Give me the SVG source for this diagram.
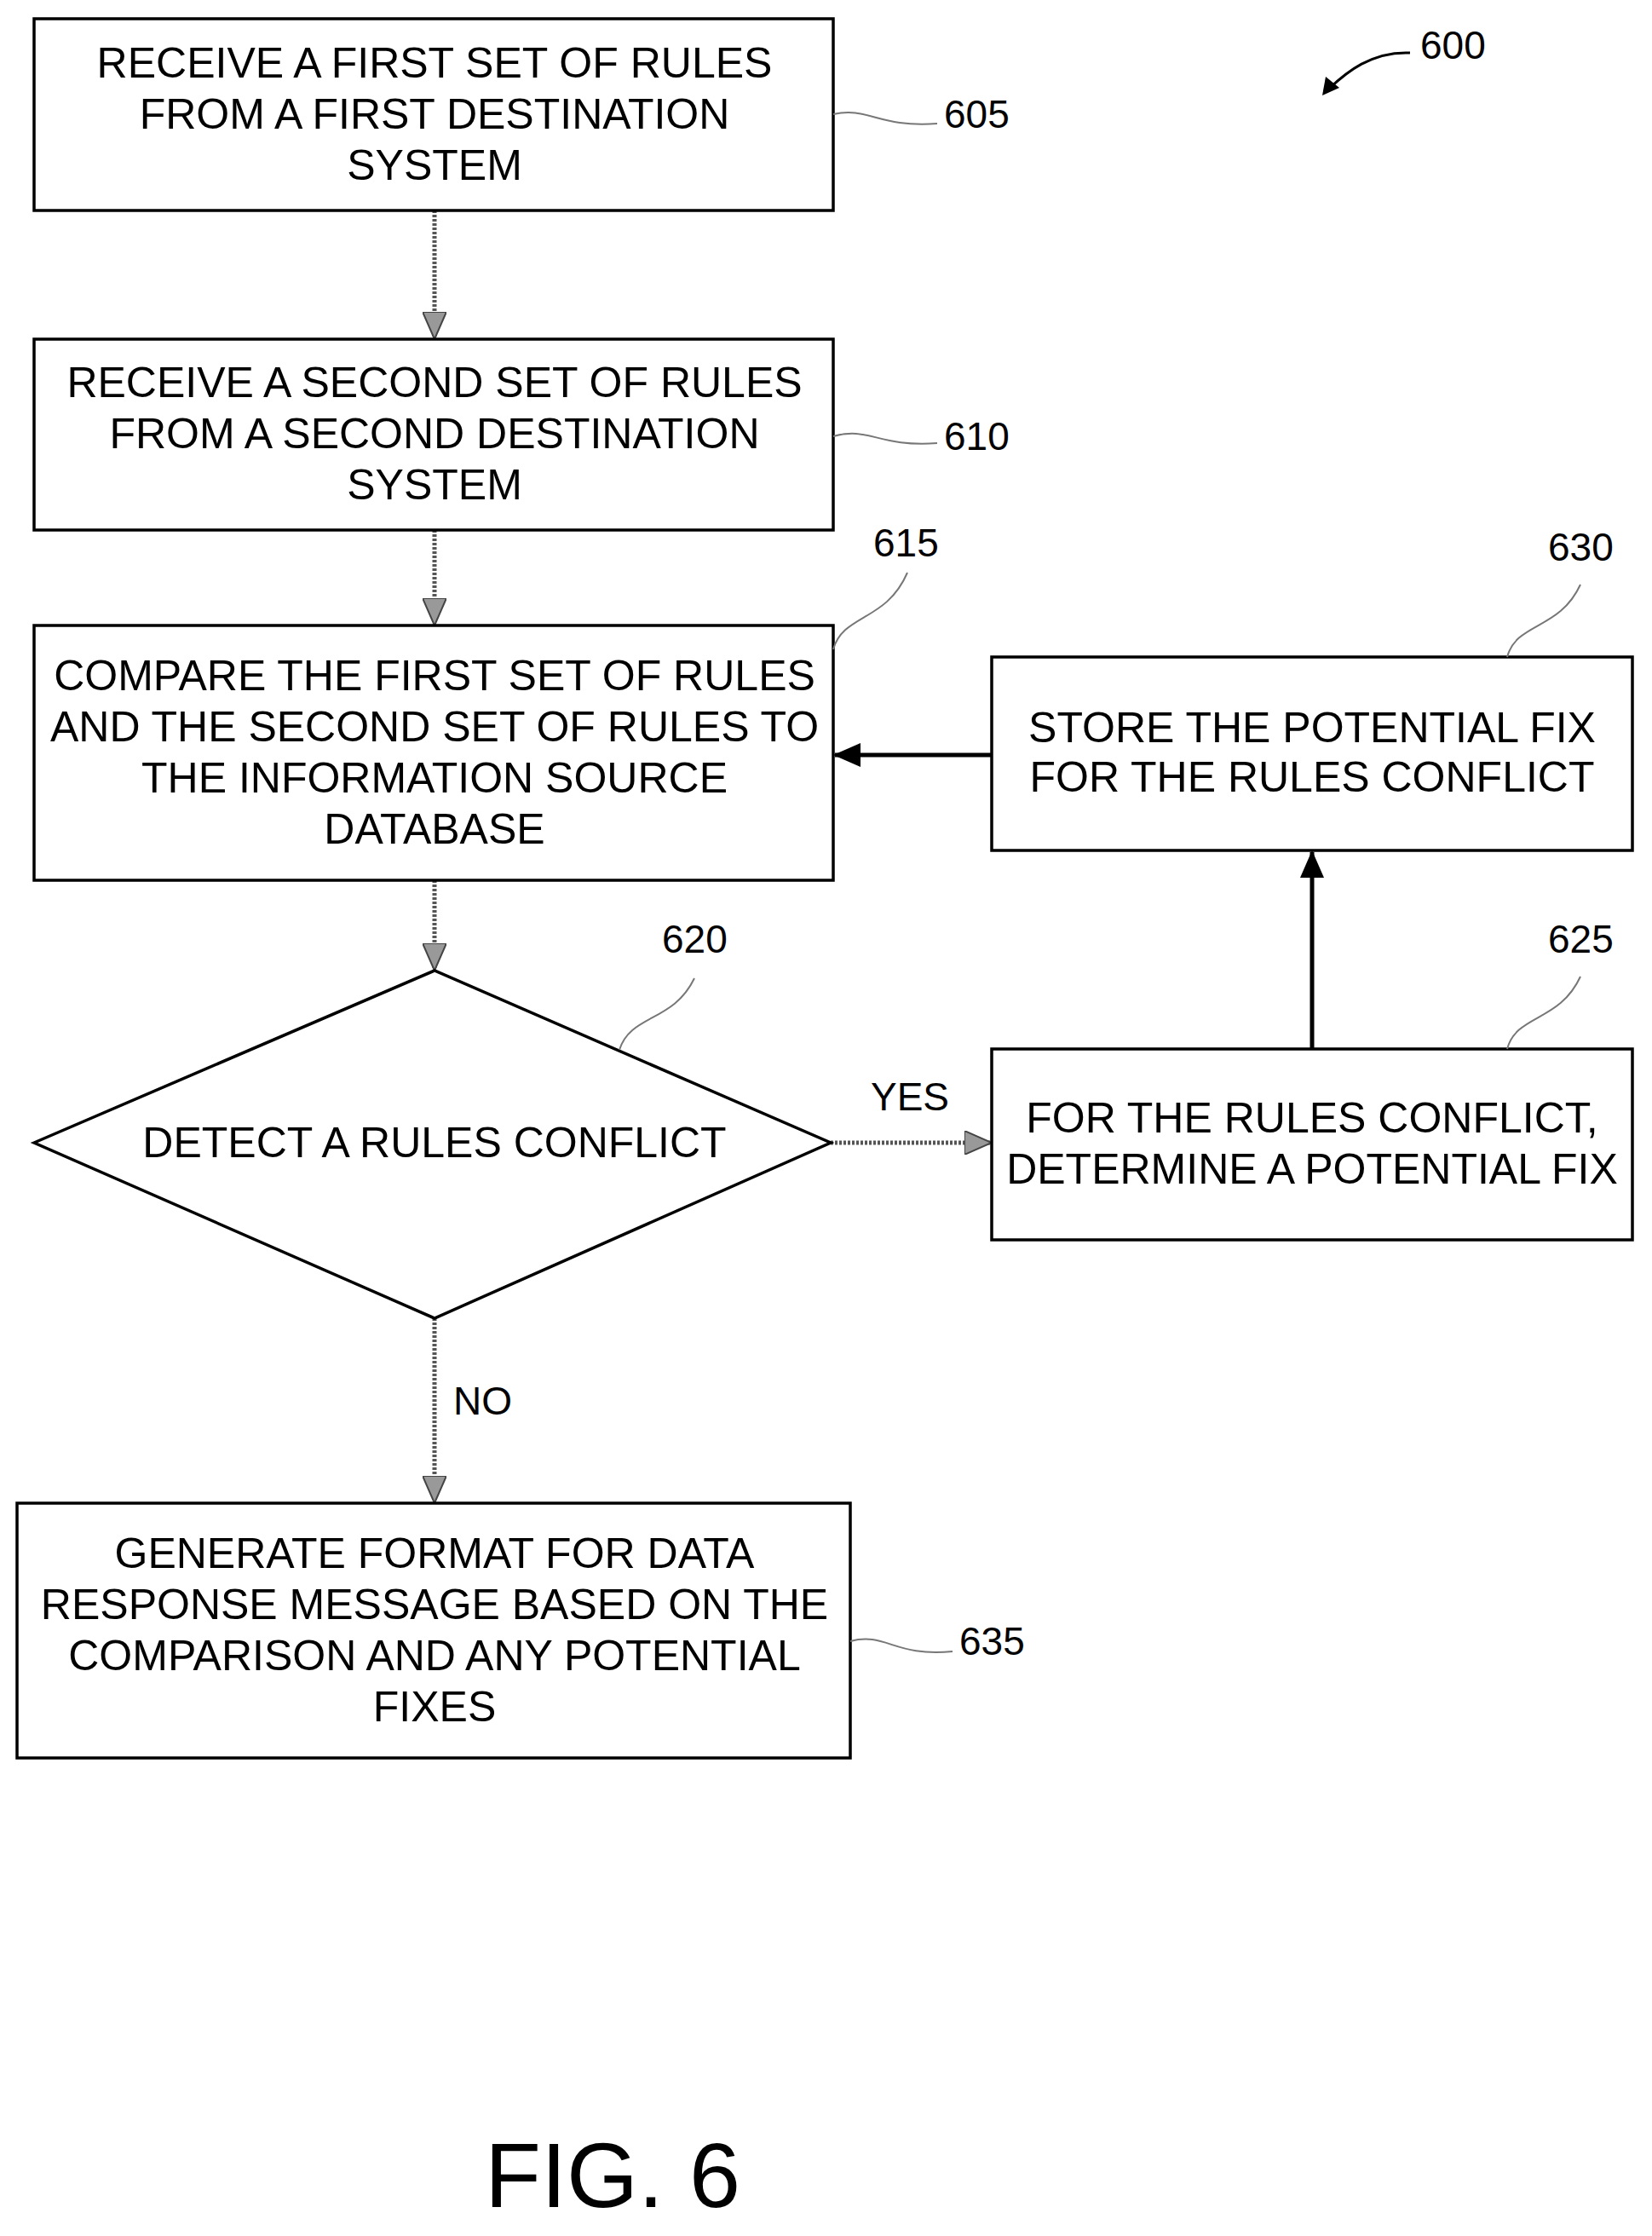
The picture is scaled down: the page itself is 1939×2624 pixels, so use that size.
<svg xmlns="http://www.w3.org/2000/svg" width="1939" height="2624" viewBox="0 0 1939 2624">
<style>
.b{fill:#fff;stroke:#000;stroke-width:3.5}
.t{font-family:"Liberation Sans",Arial,sans-serif;font-size:50px;text-anchor:middle;dominant-baseline:central;fill:#000}
.r{font-family:"Liberation Sans",Arial,sans-serif;font-size:46px;dominant-baseline:central;fill:#000}
.s{fill:none;stroke:#777;stroke-width:2}
.d{stroke:#555;stroke-width:5;stroke-dasharray:3 2;fill:none}
.k{stroke:#000;stroke-width:5;fill:none}
</style>
<defs>
<marker id="ak" markerWidth="32" markerHeight="28" refX="30" refY="14" orient="auto" markerUnits="userSpaceOnUse"><path d="M0,0 L32,14 L0,28 z" fill="#000"/></marker>
<marker id="ad" markerWidth="32" markerHeight="28" refX="30" refY="14" orient="auto" markerUnits="userSpaceOnUse"><path d="M0,0 L32,14 L0,28 z" fill="#999" stroke="#444" stroke-width="2"/></marker>
</defs>
<g id="connectors">
<line class="d" x1="510" y1="247" x2="510" y2="396" marker-end="url(#ad)"/>
<line class="d" x1="510" y1="622" x2="510" y2="732" marker-end="url(#ad)"/>
<line class="d" x1="510" y1="1033" x2="510" y2="1137" marker-end="url(#ad)"/>
<line class="d" x1="510" y1="1547" x2="510" y2="1762" marker-end="url(#ad)"/>
<line class="d" x1="975" y1="1341" x2="1162" y2="1341" marker-end="url(#ad)"/>
<line class="k" x1="1540" y1="1231" x2="1540" y2="1000" marker-end="url(#ak)"/>
<line class="k" x1="1164" y1="886" x2="980" y2="886" marker-end="url(#ak)"/>
<text class="r" x="1022" y="1287">YES</text>
<text class="r" x="532" y="1644">NO</text>
</g>
<g id="n605"><rect class="b" x="40" y="22" width="938" height="225"/>
<text class="t" x="510" y="74">RECEIVE A FIRST SET OF RULES</text><text class="t" x="510" y="134">FROM A FIRST DESTINATION</text><text class="t" x="510" y="194">SYSTEM</text>
<path class="s" d="M978,134 C1020,125 1030,150 1100,145"/><text class="r" x="1108" y="134">605</text></g>
<g id="n610"><rect class="b" x="40" y="398" width="938" height="224"/>
<text class="t" x="510" y="449">RECEIVE A SECOND SET OF RULES</text><text class="t" x="510" y="509">FROM A SECOND DESTINATION</text><text class="t" x="510" y="569">SYSTEM</text>
<path class="s" d="M978,512 C1020,500 1030,525 1100,520"/><text class="r" x="1108" y="512">610</text></g>
<g id="n615"><rect class="b" x="40" y="734" width="938" height="299"/>
<text class="t" x="510" y="793">COMPARE THE FIRST SET OF RULES</text><text class="t" x="510" y="853">AND THE SECOND SET OF RULES TO</text><text class="t" x="510" y="913">THE INFORMATION SOURCE</text><text class="t" x="510" y="973">DATABASE</text>
<path class="s" d="M978,762 C990,720 1040,730 1065,672"/><text class="r" x="1025" y="637">615</text></g>
<g id="n620"><polygon class="b" points="40,1341 510,1139 975,1341 510,1547"/>
<text class="t" x="510" y="1341">DETECT A RULES CONFLICT</text>
<path class="s" d="M727,1232 C740,1190 790,1200 815,1148"/><text class="r" x="777" y="1102">620</text></g>
<g id="n630"><rect class="b" x="1164" y="771" width="752" height="227"/>
<text class="t" x="1540" y="854">STORE THE POTENTIAL FIX</text><text class="t" x="1540" y="912">FOR THE RULES CONFLICT</text>
<path class="s" d="M1769,771 C1780,730 1830,740 1855,686"/><text class="r" x="1817" y="642">630</text></g>
<g id="n625"><rect class="b" x="1164" y="1231" width="752" height="224"/>
<text class="t" x="1540" y="1312">FOR THE RULES CONFLICT,</text><text class="t" x="1540" y="1372">DETERMINE A POTENTIAL FIX</text>
<path class="s" d="M1769,1231 C1780,1190 1830,1200 1855,1146"/><text class="r" x="1817" y="1102">625</text></g>
<g id="n635"><rect class="b" x="20" y="1764" width="978" height="299"/>
<text class="t" x="510" y="1823">GENERATE FORMAT FOR DATA</text><text class="t" x="510" y="1883">RESPONSE MESSAGE BASED ON THE</text><text class="t" x="510" y="1943">COMPARISON AND ANY POTENTIAL</text><text class="t" x="510" y="2003">FIXES</text>
<path class="s" d="M998,1926 C1040,1915 1050,1945 1118,1938"/><text class="r" x="1126" y="1926">635</text></g>
<g id="ref600"><path d="M1655,62 C1610,60 1580,85 1560,104" fill="none" stroke="#000" stroke-width="3"/><path d="M1552,112 L1556,90 L1572,103 z" fill="#000"/><text class="r" x="1667" y="53">600</text></g>
<text x="719" y="2590" font-family="Liberation Sans,Arial,sans-serif" font-size="108" text-anchor="middle">FIG. 6</text>
</svg>
